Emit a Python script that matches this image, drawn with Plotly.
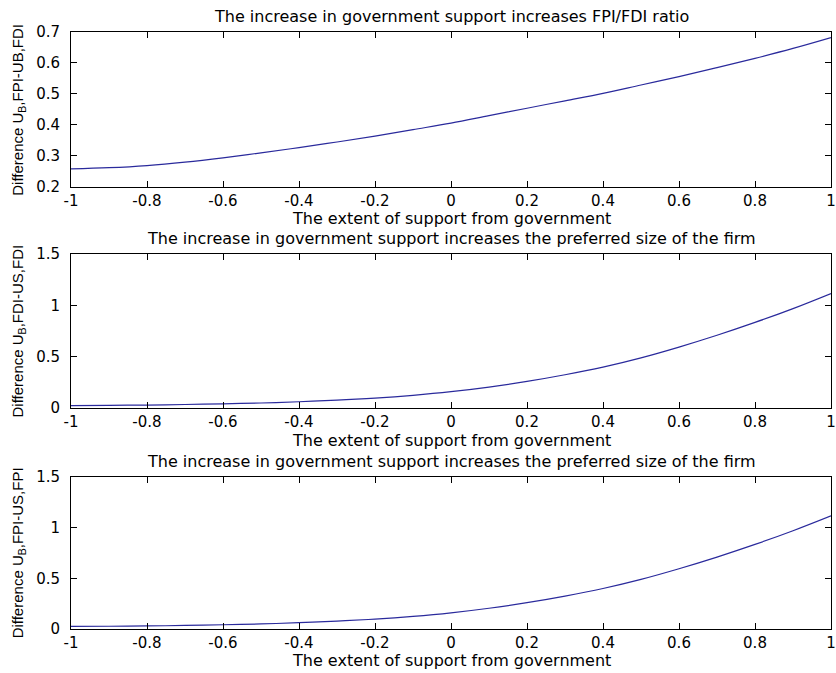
import plotly.graph_objects as go

# ---- data ----
support = [-1.0, -0.9, -0.8, -0.7, -0.6, -0.5, -0.4, -0.3, -0.2, -0.1, 0.0,
           0.1, 0.2, 0.3, 0.4, 0.5, 0.6, 0.7, 0.8, 0.9, 1.0]
diff_fpi_fdi = [0.258, 0.262, 0.269, 0.280, 0.294, 0.310, 0.327, 0.345, 0.364, 0.385, 0.406,
                0.430, 0.454, 0.478, 0.502, 0.529, 0.556, 0.585, 0.615, 0.647, 0.682]
diff_fdi_size = [0.025, 0.027, 0.030, 0.035, 0.042, 0.050, 0.062, 0.078, 0.098, 0.125, 0.160,
                 0.205, 0.260, 0.325, 0.400, 0.490, 0.595, 0.710, 0.835, 0.970, 1.117]
diff_fpi_size = [0.025, 0.027, 0.030, 0.035, 0.042, 0.050, 0.062, 0.078, 0.098, 0.125, 0.160,
                 0.205, 0.260, 0.325, 0.400, 0.490, 0.595, 0.710, 0.835, 0.970, 1.117]

x_tick_vals = [-1, -0.8, -0.6, -0.4, -0.2, 0, 0.2, 0.4, 0.6, 0.8, 1]
x_tick_text = ["-1", "-0.8", "-0.6", "-0.4", "-0.2", "0", "0.2", "0.4", "0.6", "0.8", "1"]
y1_tick_vals = [0.2, 0.3, 0.4, 0.5, 0.6, 0.7]
y1_tick_text = ["0.2", "0.3", "0.4", "0.5", "0.6", "0.7"]
y23_tick_vals = [0, 0.5, 1, 1.5]
y23_tick_text = ["0", "0.5", "1", "1.5"]

titles = ["The increase in government support increases FPI/FDI ratio",
          "The increase in government support increases the preferred size of the firm",
          "The increase in government support increases the preferred size of the firm"]
x_label = "The extent of support from government"
y_labels = ["Difference U<sub>B</sub>,FPI-UB,FDI",
            "Difference U<sub>B</sub>,FDI-US,FDI",
            "Difference U<sub>B</sub>,FPI-US,FPI"]

W, H = 836, 673
line_color = "#2a2a9c"
tick_font = dict(family="DejaVu Sans", size=15, color="black")
text_font = dict(family="DejaVu Sans", size=16, color="black")
ylab_font = dict(family="Liberation Sans", size=15, color="black")

# plot-area box in page pixels
PL, PR, PT, PB = 70.7, 831.0, 32.0, 629.3
PW, PH = PR - PL, PB - PT
rows_px = [(32.0, 187.0), (254.3, 408.3), (477.3, 629.3)]  # (top, bottom) in page pixels
series = [diff_fpi_fdi, diff_fdi_size, diff_fpi_size]
y_ranges = [[0.2, 0.7], [0, 1.5], [0, 1.5]]
y_ticks = [(y1_tick_vals, y1_tick_text), (y23_tick_vals, y23_tick_text), (y23_tick_vals, y23_tick_text)]


def px_x(px):
    return (px - PL) / PW


def px_y(py):
    return (PB - py) / PH


fig = go.Figure()
annotations = []
for i in range(3):
    n = "" if i == 0 else str(i + 1)
    top, bot = rows_px[i]
    fig.add_trace(go.Scatter(x=support, y=series[i], mode="lines", line_shape="spline",
                             line=dict(color=line_color, width=1.2),
                             xaxis="x" + n, yaxis="y" + n, showlegend=False))
    axis_common = dict(showline=True, linecolor="black", linewidth=1, mirror="ticks",
                       ticks="inside", ticklen=6, tickcolor="black", tickwidth=1,
                       showgrid=False, zeroline=False, tickfont=tick_font, fixedrange=True,
                       automargin=False)
    fig.update_layout(**{
        "xaxis" + n: dict(domain=[0, 1], range=[-1, 1],
                          tickvals=x_tick_vals, ticktext=x_tick_text,
                          anchor="y" + n, ticklabelstandoff=0, **axis_common),
        "yaxis" + n: dict(domain=[max(0, px_y(bot)), min(1, px_y(top))], range=y_ranges[i],
                          tickvals=y_ticks[i][0], ticktext=y_ticks[i][1],
                          anchor="x" + n, ticklabelstandoff=7, **axis_common),
    })
    annotations.append(dict(text=titles[i], x=0.5, y=px_y(top - 16), xref="paper", yref="paper",
                            xanchor="center", yanchor="middle", showarrow=False, font=text_font))
    annotations.append(dict(text=x_label, x=0.5, y=px_y(bot + 32), xref="paper", yref="paper",
                            xanchor="center", yanchor="middle", showarrow=False, font=text_font))
    annotations.append(dict(text=y_labels[i], x=px_x(18), y=px_y((top + bot) / 2),
                            xref="paper", yref="paper", xanchor="center", yanchor="middle",
                            textangle=-90, showarrow=False, font=ylab_font))

fig.update_layout(width=W, height=H,
                  margin=dict(l=PL, r=W - PR, t=PT, b=H - PB, pad=0, autoexpand=False),
                  paper_bgcolor="white", plot_bgcolor="white", annotations=annotations)
fig.write_html("out.html", config={"displayModeBar": False},
               post_script="document.body.style.margin='0';"
                           "document.documentElement.style.overflow='hidden';")
